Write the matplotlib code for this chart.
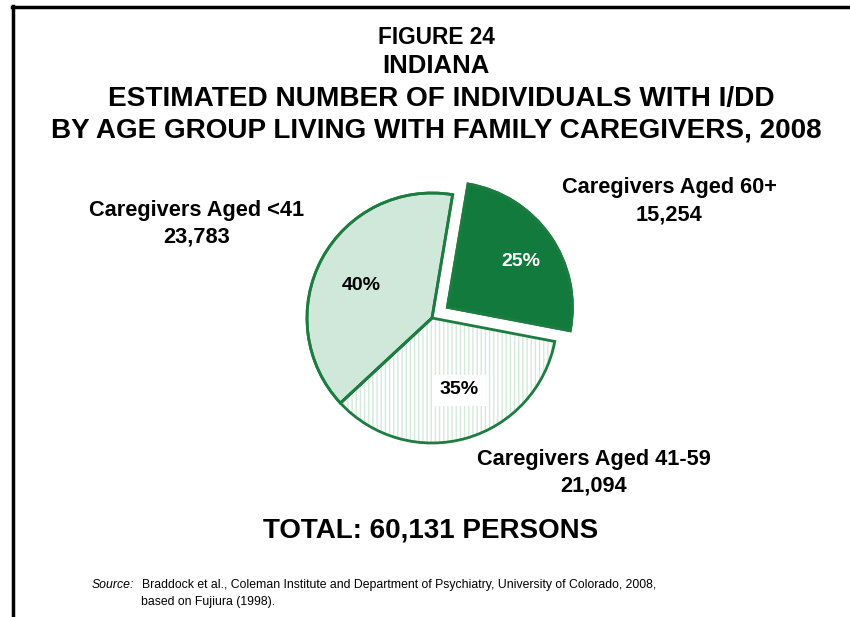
import matplotlib
matplotlib.use("Agg")
import matplotlib.pyplot as plt
from matplotlib.lines import Line2D

plt.rcParams['font.family'] = ['Liberation Sans', 'DejaVu Sans']

categories = ["Caregivers Aged 60+", "Caregivers Aged 41-59", "Caregivers Aged <41"]
values = [15254, 21094, 23783]
pct_labels = ["25%", "35%", "40%"]
value_labels = ["15,254", "21,094", "23,783"]
total_label = "TOTAL: 60,131 PERSONS"

W, H = 850, 617
fig = plt.figure(figsize=(W / 100, H / 100), dpi=100)

def fx(x):
    return x / W

def fy(y):
    return 1 - y / H

# frame lines (top and left)
fig.add_artist(Line2D([fx(12), fx(850)], [fy(7), fy(7)], color='black', lw=2.5, transform=fig.transFigure))
fig.add_artist(Line2D([fx(12.5), fx(12.5)], [fy(6), fy(617)], color='black', lw=2.5, transform=fig.transFigure))

# titles
fig.text(fx(436), fy(37), "FIGURE 24", ha='center', va='center', fontsize=16.3, fontweight='bold')
fig.text(fx(436), fy(66), "INDIANA", ha='center', va='center', fontsize=18.5, fontweight='bold')
fig.text(fx(441), fy(99), "ESTIMATED NUMBER OF INDIVIDUALS WITH I/DD", ha='center', va='center', fontsize=20.2, fontweight='bold')
fig.text(fx(436), fy(131), "BY AGE GROUP LIVING WITH FAMILY CAREGIVERS, 2008", ha='center', va='center', fontsize=20.1, fontweight='bold')

# pie
cx, cy, r = 432, 318, 125
ax = fig.add_axes([fx(cx - r), fy(cy + r), 2 * r / W, 2 * r / H])

dark = '#127a3d'
light = '#cfe8d9'
edge = '#1d7c40'
colors = [dark, 'white', light]
explode = [0.15, 0, 0]
startangle = 80.5

wedges, _ = ax.pie(values, explode=explode, startangle=startangle, counterclock=False,
                   colors=colors, radius=1.0,
                   wedgeprops=dict(edgecolor=edge, linewidth=2))
# hatch overlay for the 41-59 wedge
w = wedges[1]
w.set_hatch('||||')
w.set_edgecolor('#d3eadb')
w.set_linewidth(0)
w2, _ = ax.pie(values, explode=explode, startangle=startangle, counterclock=False,
               colors=['none'] * 3, radius=1.0,
               wedgeprops=dict(edgecolor=edge, linewidth=2, fill=False))
for p in wedges + w2:
    p.set_clip_on(False)
ax.set_aspect('auto')
ax.set_xlim(-1, 1)
ax.set_ylim(-1, 1)
ax.axis('off')

# percent labels
tf = fig.transFigure
ax.text(fx(521), fy(262), pct_labels[0], ha='center', va='center', fontsize=14, fontweight='bold', color='white',
        transform=tf, zorder=10)
ax.text(fx(459), fy(390), pct_labels[1], ha='center', va='center', fontsize=14, fontweight='bold', color='black',
        transform=tf, zorder=10, bbox=dict(facecolor='white', edgecolor='none', pad=5))
ax.text(fx(361), fy(285), pct_labels[2], ha='center', va='center', fontsize=14, fontweight='bold', color='black',
        transform=tf, zorder=10)

# category labels
label_pos = [(669, 188), (594, 459), (197, 210)]
for cat, val, (x, y) in zip(categories, value_labels, label_pos):
    fig.text(fx(x), fy(y), cat, ha='center', va='center', fontsize=15.7, fontweight='bold')
    fig.text(fx(x), fy(y + 27), val, ha='center', va='center', fontsize=15.7, fontweight='bold')

# total
fig.text(fx(431), fy(530), total_label, ha='center', va='center', fontsize=20, fontweight='bold')

# source
fs = 8.8
fig.text(fx(92), fy(585), "Source:", ha='left', va='center', fontsize=fs, style='italic')
fig.text(fx(142), fy(585), "Braddock et al., Coleman Institute and Department of Psychiatry, University of Colorado, 2008,",
         ha='left', va='center', fontsize=fs)
fig.text(fx(141), fy(602), "based on Fujiura (1998).", ha='left', va='center', fontsize=fs)

fig.savefig("out.png", dpi=100, facecolor='white')
